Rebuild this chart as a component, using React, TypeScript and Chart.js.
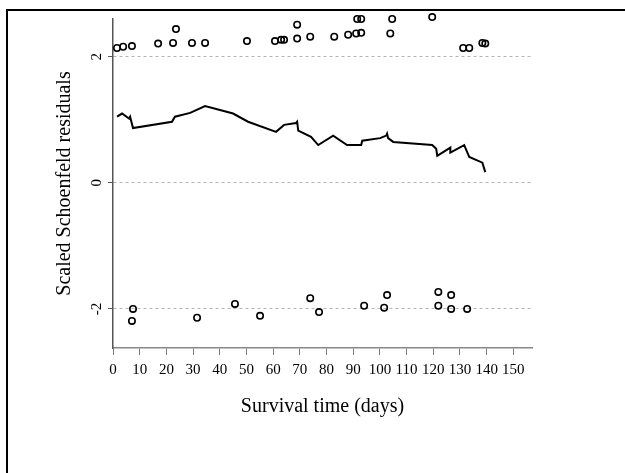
import React, { useEffect, useRef } from 'react';
import { Chart, registerables } from 'chart.js';
Chart.register(...registerables);

// Scaled Schoenfeld residuals (upper band)
const upperTimes = [1.5, 3.8, 7.1, 16.9, 22.5, 23.6, 29.6, 34.5, 50.2, 60.7, 63.0, 64.1, 69.0, 69.0, 73.9, 82.9, 88.1, 91.1, 93.0, 91.5, 93.0, 103.9, 104.6, 119.6, 131.2, 133.5, 138.4, 139.5];
const upperResiduals = [2.14, 2.16, 2.17, 2.21, 2.22, 2.44, 2.22, 2.22, 2.25, 2.25, 2.27, 2.27, 2.29, 2.51, 2.32, 2.32, 2.35, 2.37, 2.38, 2.6, 2.6, 2.37, 2.6, 2.63, 2.14, 2.14, 2.22, 2.21];
// Scaled Schoenfeld residuals (lower band)
const lowerTimes = [7.1, 7.5, 31.5, 45.7, 55.1, 73.9, 77.2, 94.1, 101.6, 102.7, 121.9, 121.9, 126.7, 126.7, 132.7];
const lowerResiduals = [-2.19, -2.0, -2.14, -1.92, -2.11, -1.83, -2.05, -1.95, -1.98, -1.78, -1.73, -1.95, -1.78, -2.0, -2.0];
// Smoothed curve
const smoothTimes = [1.5, 3.4, 6.0, 6.4, 7.5, 22.1, 23.2, 28.9, 34.5, 45.0, 50.6, 61.1, 64.1, 68.6, 69.0, 69.4, 74.2, 76.9, 82.5, 87.7, 93.0, 93.4, 100.1, 102.4, 102.7, 103.1, 105.0, 119.6, 121.1, 121.5, 126.4, 126.4, 131.6, 133.5, 138.4, 139.5];
const smoothValues = [1.05, 1.10, 1.02, 1.05, 0.87, 0.97, 1.05, 1.11, 1.22, 1.10, 0.97, 0.81, 0.92, 0.95, 0.97, 0.83, 0.73, 0.60, 0.75, 0.60, 0.60, 0.67, 0.71, 0.75, 0.78, 0.71, 0.65, 0.60, 0.54, 0.43, 0.56, 0.48, 0.60, 0.41, 0.32, 0.17];

const xTickValues = [0, 10, 20, 30, 40, 50, 60, 70, 80, 90, 100, 110, 120, 130, 140, 150];
const yTickValues = [-2, 0, 2];
const xTitle = 'Survival time (days)';
const yTitle = 'Scaled Schoenfeld residuals';

const SERIF = "'Liberation Serif', 'Times New Roman', serif";

export default function App() {
  const ref = useRef<HTMLCanvasElement | null>(null);
  useEffect(() => {
    document.body.style.margin = '0';
    const canvas = ref.current;
    if (!canvas) return;
    const framePlugin = {
      id: 'frame',
      beforeDraw(chart: any) {
        const ctx = chart.ctx;
        ctx.save();
        ctx.fillStyle = '#000';
        ctx.fillRect(6, 9, 2, chart.height - 9);
        ctx.fillRect(6, 9, chart.width - 6, 2);
        ctx.restore();
      },
      afterDraw(chart: any) {
        const y = chart.scales.y;
        const ctx = chart.ctx;
        ctx.save();
        ctx.fillStyle = '#000';
        ctx.font = `15px ${SERIF}`;
        ctx.textAlign = 'center';
        ctx.textBaseline = 'middle';
        y.ticks.forEach((t: any) => {
          const py = y.getPixelForValue(t.value);
          ctx.save();
          ctx.translate(97, py);
          ctx.rotate(-Math.PI / 2);
          ctx.fillText(String(t.value), 0, 0);
          ctx.restore();
        });
        ctx.restore();
      },
    };
    const chart = new Chart(canvas, {
      type: 'scatter',
      data: {
        datasets: [
          {
            label: 'upper',
            data: upperTimes.map((x, i) => ({ x, y: upperResiduals[i] })),
            pointStyle: 'circle',
            pointRadius: 3.2,
            pointBorderWidth: 1.6,
            borderColor: '#000',
            backgroundColor: 'rgba(0,0,0,0)',
            clip: false,
          },
          {
            label: 'lower',
            data: lowerTimes.map((x, i) => ({ x, y: lowerResiduals[i] })),
            pointStyle: 'circle',
            pointRadius: 3.2,
            pointBorderWidth: 1.6,
            borderColor: '#000',
            backgroundColor: 'rgba(0,0,0,0)',
            clip: false,
          },
          {
            label: 'smooth',
            data: smoothTimes.map((x, i) => ({ x, y: smoothValues[i] })),
            showLine: true,
            pointRadius: 0,
            borderColor: '#000',
            borderWidth: 2,
            tension: 0,
            clip: false,
          },
        ],
      },
      options: {
        responsive: false,
        animation: false,
        events: [],
        layout: { padding: { top: 19, right: 93, bottom: 45, left: 0 } },
        plugins: { legend: { display: false }, tooltip: { enabled: false } },
        scales: {
          x: {
            type: 'linear',
            min: 0,
            max: 157,
            afterBuildTicks: (s: any) => { s.ticks = xTickValues.map((v) => ({ value: v })); },
            afterFit: (s: any) => { s.height = 80; },
            ticks: {
              includeBounds: false,
              color: '#000',
              font: { family: SERIF, size: 15 },
              padding: 6,
              maxRotation: 0,
              autoSkip: false,
            },
            grid: { drawOnChartArea: false, drawTicks: true, tickLength: 7, tickColor: '#777', tickWidth: 1 },
            border: { display: true, color: '#888', width: 1.5 },
            title: { display: true, text: xTitle, color: '#000', font: { family: SERIF, size: 20 }, padding: { top: 0, bottom: 9 } },
          },
          y: {
            type: 'linear',
            min: -2.62,
            max: 2.6,
            afterBuildTicks: (s: any) => { s.ticks = yTickValues.map((v) => ({ value: v })); },
            afterFit: (s: any) => { s.width = 113; },
            ticks: { display: false, includeBounds: false },
            grid: { drawOnChartArea: true, drawTicks: true, tickLength: 5, color: '#b5b5b5', lineWidth: 1, tickColor: '#555', tickWidth: 1 },
            border: { display: true, color: '#555', width: 1.5, dash: [3, 3] },
            title: { display: true, text: yTitle, color: '#000', font: { family: SERIF, size: 20 }, padding: { top: 53, bottom: 0 } },
          },
        },
      },
      plugins: [framePlugin],
    } as any);
    return () => chart.destroy();
  }, []);
  return (
    <div style={{ position: 'relative', width: 625, height: 473, background: '#fff' }}>
      <canvas ref={ref} width={625} height={473} style={{ width: 625, height: 473, display: 'block' }} />
    </div>
  );
}
